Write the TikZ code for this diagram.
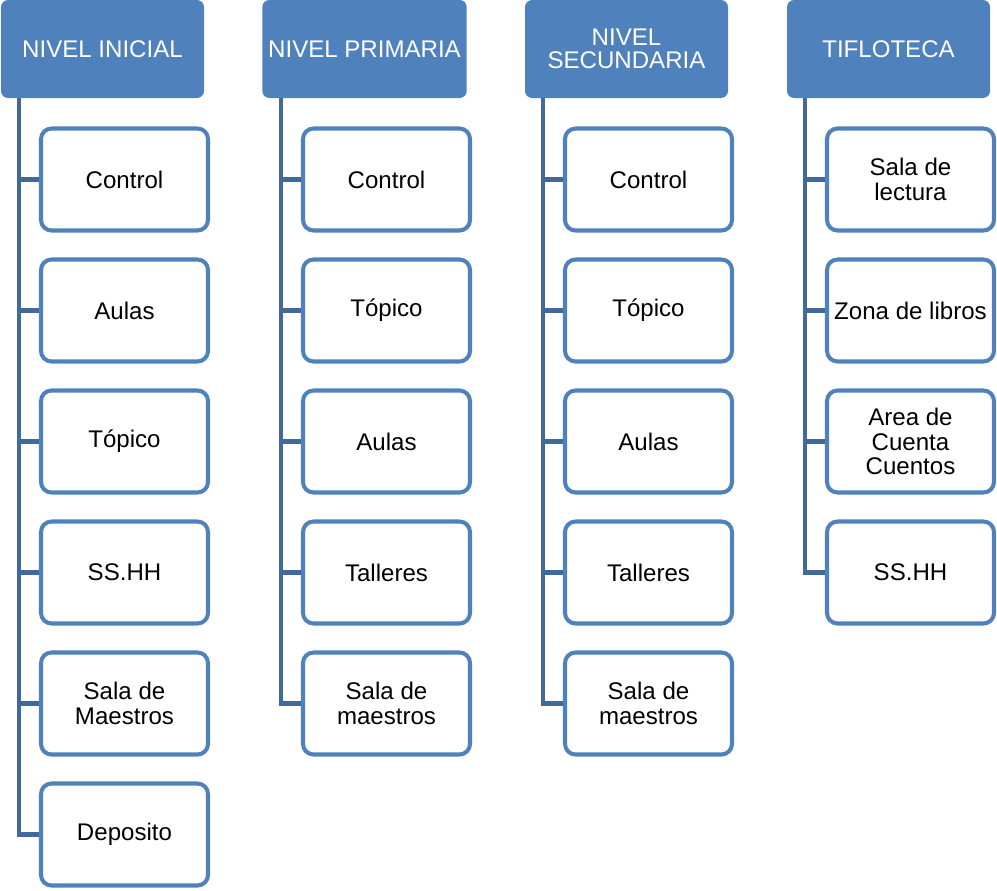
\documentclass[tikz,border=0pt]{standalone}
\usepackage{fontspec}
\setmainfont{Liberation Sans}
\usepackage{tikz}
\usetikzlibrary{positioning}
\usepackage{xcolor}

\definecolor{azul}{HTML}{4F81BD}
\definecolor{tronco}{HTML}{41699C}

\begin{document}
\begin{tikzpicture}[
    nivel/.style={rectangle,rounded corners=4pt,fill=azul,text=white,minimum width=4.06cm,minimum height=1.96cm,align=center,font=\fontsize{13.7}{13.2}\selectfont},
    ambiente/.style={rectangle,rounded corners=6pt,draw=azul,line width=2.3pt,fill=white,minimum width=3.34cm,minimum height=2.04cm,align=center,font=\fontsize{13.7}{13.9}\selectfont},
    rama/.style={draw=tronco,line width=2.8pt}]

\useasboundingbox (0,0) rectangle (19.94,-17.8);

% cabeceras
\node[nivel] (hIni) at (2.05,-0.98) {NIVEL INICIAL};
\node[nivel] (hPri) at (7.29,-0.98) {NIVEL PRIMARIA};
\node[nivel] (hSec) at (12.53,-0.98) {NIVEL\\SECUNDARIA};
\node[nivel] (hTif) at (17.77,-0.98) {TIFLOTECA};

\coordinate (ci) at (0.38,-1.96);
\coordinate (cp) at (5.62,-1.96);
\coordinate (cs) at (10.86,-1.96);
\coordinate (ct) at (16.10,-1.96);

% nivel inicial
\node[ambiente] (i1) at (2.49,-3.59) {Control};
\node[ambiente] (i2) at (2.49,-6.21) {Aulas};
\node[ambiente] (i3) at (2.49,-8.83) {Tópico};
\node[ambiente] (i4) at (2.49,-11.45) {SS.HH};
\node[ambiente] (i5) at (2.49,-14.07) {Sala de\\Maestros};
\node[ambiente] (i6) at (2.49,-16.69) {Deposito};

% nivel primaria
\node[ambiente] (p1) at (7.73,-3.59) {Control};
\node[ambiente] (p2) at (7.73,-6.21) {Tópico};
\node[ambiente] (p3) at (7.73,-8.83) {Aulas};
\node[ambiente] (p4) at (7.73,-11.45) {Talleres};
\node[ambiente] (p5) at (7.73,-14.07) {Sala de\\maestros};

% nivel secundaria
\node[ambiente] (s1) at (12.97,-3.59) {Control};
\node[ambiente] (s2) at (12.97,-6.21) {Tópico};
\node[ambiente] (s3) at (12.97,-8.83) {Aulas};
\node[ambiente] (s4) at (12.97,-11.45) {Talleres};
\node[ambiente] (s5) at (12.97,-14.07) {Sala de\\maestros};

% tifloteca
\node[ambiente] (t1) at (18.21,-3.59) {Sala de\\lectura};
\node[ambiente] (t2) at (18.21,-6.21) {Zona de libros};
\node[ambiente] (t3) at (18.21,-8.83) {Area de\\Cuenta\\Cuentos};
\node[ambiente] (t4) at (18.21,-11.45) {SS.HH};

% troncos y ramas
\draw[rama] (ci) |- (i6.west);
\foreach \n in {i1,i2,i3,i4,i5} \draw[rama] (\n.west) -- (\n.west -| ci);
\draw[rama] (cp) |- (p5.west);
\foreach \n in {p1,p2,p3,p4} \draw[rama] (\n.west) -- (\n.west -| cp);
\draw[rama] (cs) |- (s5.west);
\foreach \n in {s1,s2,s3,s4} \draw[rama] (\n.west) -- (\n.west -| cs);
\draw[rama] (ct) |- (t4.west);
\foreach \n in {t1,t2,t3} \draw[rama] (\n.west) -- (\n.west -| ct);

\end{tikzpicture}
\end{document}
